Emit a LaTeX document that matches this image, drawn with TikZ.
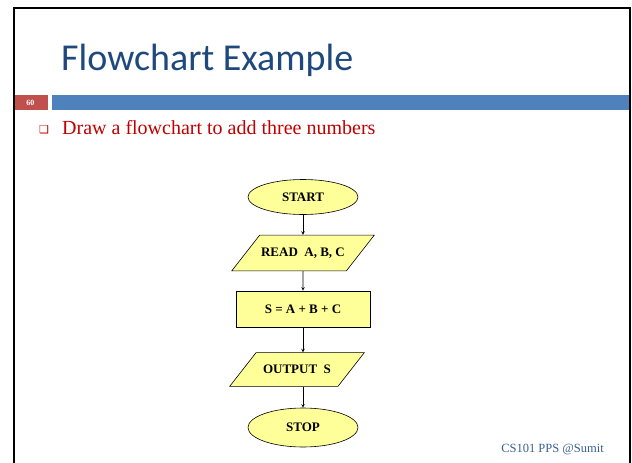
\documentclass[tikz,border=0pt]{standalone}
\usepackage{fontspec}
\setmainfont{Liberation Serif}
\newfontfamily\titlefont{Carlito}
\newfontfamily\symfont{DejaVu Sans}
\usetikzlibrary{positioning, shapes.geometric}
\definecolor{titleblue}{HTML}{1F497D}
\definecolor{barblue}{HTML}{4F81BD}
\definecolor{barred}{HTML}{C0504D}
\definecolor{textred}{HTML}{C00000}
\definecolor{footblue}{HTML}{376092}
\definecolor{boxyellow}{HTML}{FFFF99}

\begin{document}
\begin{tikzpicture}[x=1pt, y=-1pt, node distance=56pt]
    % Define styles
    \tikzstyle{startstop} = [ellipse, minimum width=110pt, minimum height=35pt, inner sep=0pt, draw=black, line width=0.6pt, fill=boxyellow, font=\fontsize{13}{15}\selectfont\bfseries]
    \tikzstyle{io} = [trapezium, trapezium left angle=52, trapezium right angle=128, inner xsep=1.5pt, inner ysep=12.5pt, draw=black, line width=0.6pt, fill=boxyellow, font=\fontsize{13}{15}\selectfont\bfseries]
    \tikzstyle{process} = [rectangle, minimum width=134pt, minimum height=36pt, draw=black, line width=0.6pt, fill=boxyellow, font=\fontsize{13}{15}\selectfont\bfseries]
    \tikzstyle{arrow} = [draw=black, line width=0.6pt, ->, >=stealth]

    \useasboundingbox (0,0) rectangle (632,463);

    % Slide frame
    \fill[barblue] (52,95) rectangle (630,110);
    \node (pagebox) [fill=barred, minimum width=35pt, minimum height=15pt, inner sep=0pt, text=white, font=\fontsize{8}{9}\selectfont\bfseries] at (30.5,102.5) {60};
    \draw[line width=2.5pt] (14,463) -- (14,8) -- (630,8) -- (630,463);
    \node (title) [anchor=base west, inner sep=0pt, text=titleblue, font=\titlefont\fontsize{38}{46}\selectfont] at (61,70) {Flowchart Example};
    \node (bullet) [anchor=base west, inner sep=0pt, text=textred, font=\symfont\fontsize{11}{12}\selectfont] at (39,133) {❑};
    \node (task) [anchor=base west, inner sep=0pt, text=textred, font=\fontsize{20}{24}\selectfont] at (62,134) {Draw a flowchart to add three numbers};
    \node (footer) [anchor=base east, inner sep=0pt, text=footblue, font=\fontsize{12.5}{14}\selectfont] at (604,452) {CS101 PPS @Sumit};

    % Nodes
    \node (start) [startstop] at (303,197) {START};
    \node (read) [io, below of=start] {READ\ \ A, B, C};
    \node (sum) [process, below of=read] {S = A + B + C};
    \node (out) [io, below of=sum, xshift=-6pt, yshift=-4.5pt, inner xsep=7pt] {OUTPUT\ \ S};
    \node (stop) [startstop, below of=out, xshift=6pt, yshift=-2pt, minimum height=39pt] {STOP};

    % Arrows
    \draw [arrow] (start) -- (read);
    \draw [arrow] (read) -- (sum);
    \draw [arrow] (sum) -- (sum |- out.north);
    \draw [arrow] (out.south -| stop) -- (stop);
\end{tikzpicture}
\end{document}
